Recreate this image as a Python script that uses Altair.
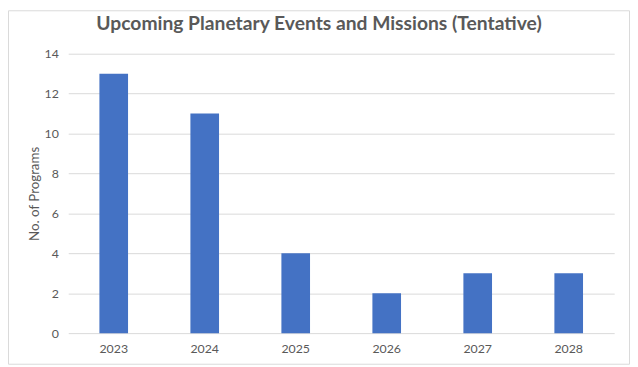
import altair as alt
import pandas as pd

years = ["2023", "2024", "2025", "2026", "2027", "2028"]
programs = [13, 11, 4, 2, 3, 3]
title_text = ["Upcoming Planetary Events and Missions (Tentative)"]

df = pd.DataFrame({"Year": years, "Programs": programs})

W, H = 553, 283
PL, PT = 61, 44
TOTW, TOTH = 630, 359

bars = alt.Chart(df).mark_bar(size=29, color="#4472C4").encode(
    x=alt.X("Year:N", sort=years,
            scale=alt.Scale(paddingInner=0, paddingOuter=0),
            axis=alt.Axis(title=None, labelAngle=0, ticks=False, domain=False,
                          labelPadding=10, labelFontSize=12.5, labelColor="#595959",
                          labelFont="Lato")),
    y=alt.Y("Programs:Q", scale=alt.Scale(domain=[0, 14]),
            axis=alt.Axis(title="No. of Programs", values=[0, 2, 4, 6, 8, 10, 12, 14],
                          ticks=False, domain=False, grid=True, gridColor="#D9D9D9",
                          labelPadding=10, labelFontSize=12.5, labelColor="#595959",
                          labelFont="Lato", titleFont="Lato", titleFontSize=13.5,
                          titleFontWeight="normal", titleColor="#595959",
                          titlePadding=3)),
)

frame = alt.Chart(pd.DataFrame({"a": [0]})).mark_rect(
    fill=None, stroke="#D9D9D9", strokeWidth=1, clip=False
).encode(
    x=alt.value(-PL + 0.5), x2=alt.value(TOTW - PL - 0.5),
    y=alt.value(-PT + 0.5), y2=alt.value(TOTH - PT - 0.5),
)

title = alt.Chart(pd.DataFrame({"t": title_text})).mark_text(
    font="Lato", fontSize=19.5, fontWeight="bold", color="#595959",
    align="center", baseline="middle", clip=False
).encode(
    text="t:N",
    x=alt.value(323 - 8 - PL),
    y=alt.value(22 - 8 - PT),
)

chart = alt.layer(frame, bars, title).properties(
    width=W, height=H,
    autosize=alt.AutoSizeParams(type="none"),
    padding={"left": PL, "top": PT, "right": TOTW - PL - W, "bottom": TOTH - PT - H},
).configure_view(stroke=None)

chart.save("out.html", embed_options={"renderer": "svg", "actions": False})
